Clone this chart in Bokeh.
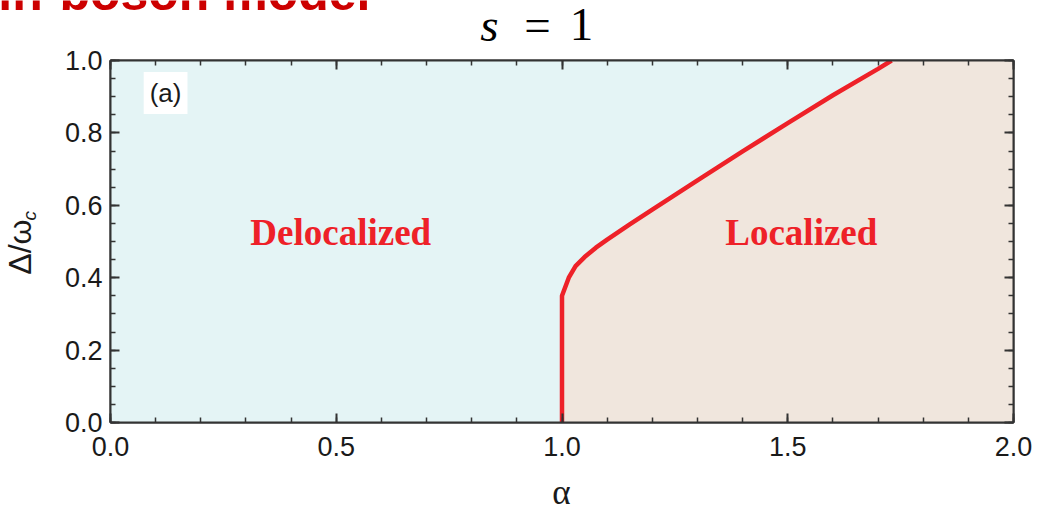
import math
from bokeh.plotting import figure
from bokeh.layouts import column, row
from bokeh.models import (Label, LinearAxis, SingleIntervalTicker, Range1d,
                          PrintfTickFormatter, CustomJSTickFormatter)
from bokeh.core.properties import value
from bokeh.embed import file_html
from bokeh.resources import INLINE

# Critical coupling line Delta_c / omega_c versus alpha (s = 1)
alpha_c = [1.0, 1.0, 1.015, 1.03, 1.05, 1.075, 1.1, 1.15, 1.2, 1.3, 1.4, 1.5, 1.6, 1.7, 1.73]
delta_c = [0.0, 0.35, 0.40, 0.432, 0.457, 0.483, 0.505, 0.547, 0.588, 0.669, 0.749, 0.827, 0.904, 0.977, 1.0]

x_lim = (0.0, 2.0)
y_lim = (0.0, 1.0)

W, H = 1048, 508
HEAD = 50          # heading strip height
FOOT = 36          # x-title strip height
YLAB = 60          # y-title strip width
BODY_H = H - HEAD - FOOT
MAIN_W = W - YLAB

def blank_fig(width, height, xr, yr):
    f = figure(width=width, height=height, x_range=xr, y_range=yr, title=None,
               output_backend="svg", toolbar_location=None,
               x_axis_location=None, y_axis_location=None,
               min_border=0, outline_line_color=None,
               background_fill_color="white", border_fill_color="white")
    f.xgrid.visible = False
    f.ygrid.visible = False
    return f

# ---- heading strip (canvas pixel coordinates, y downwards, texts anchored at their middle)
head = blank_fig(W, HEAD, Range1d(0, W), Range1d(HEAD, 0))
head.text(x=[370], y=[-7.5], text=["Spin-boson model"], text_align="right",
          text_baseline="middle", text_font=value("Liberation Sans"),
          text_font_style="bold", text_font_size="50px", text_color="#CC0000")
head.text(x=[489], y=[24], text=["s"], text_align="center", text_baseline="middle",
          text_font=value("Liberation Serif"), text_font_style="italic",
          text_font_size="47px", text_color="black")
head.text(x=[537], y=[24], text=["="], text_align="center", text_baseline="middle",
          text_font=value("Liberation Serif"), text_font_size="47px", text_color="black")
head.text(x=[581], y=[24], text=["1"], text_align="center", text_baseline="middle",
          text_font=value("Liberation Serif"), text_font_size="47px", text_color="black")

# ---- y-title strip (canvas pixel coordinates, y downwards)
ylab = blank_fig(YLAB, BODY_H, Range1d(0, YLAB), Range1d(HEAD + BODY_H, HEAD))
ylab.text(x=[19], y=[267.5], text=["Δ/ω"], angle=math.pi / 2, text_align="center",
          text_baseline="middle", text_font=value("Liberation Sans"),
          text_font_size="32px", text_color="#1a1a1a")
ylab.text(x=[28.5], y=[231], text=["c"], angle=math.pi / 2, text_align="center",
          text_baseline="middle", text_font=value("Liberation Sans"),
          text_font_style="italic", text_font_size="19px", text_color="#1a1a1a")

# ---- x-title strip (canvas pixel coordinates, y downwards)
foot = blank_fig(W, FOOT, Range1d(0, W), Range1d(H, H - FOOT))
foot.text(x=[561], y=[492], text=["α"], text_align="center", text_baseline="middle",
          text_font=value("Liberation Serif"), text_font_size="35px", text_color="#1a1a1a")

# ---- main plot
L, R, T, B = 50, 35, 10, 50
p = figure(width=MAIN_W, height=BODY_H, x_range=Range1d(*x_lim), y_range=Range1d(*y_lim),
           title=None, output_backend="svg", toolbar_location=None,
           x_axis_location=None, y_axis_location=None,
           min_border_left=L, min_border_right=R, min_border_top=T, min_border_bottom=B,
           background_fill_color="white", border_fill_color="white")
p.xgrid.visible = False
p.ygrid.visible = False
p.outline_line_color = "#333333"
p.outline_line_width = 2

# phase regions
deloc_x = [x_lim[0]] + alpha_c + [x_lim[0]]
deloc_y = [y_lim[0]] + delta_c + [y_lim[1]]
loc_x = alpha_c + [x_lim[1], x_lim[1]]
loc_y = delta_c + [y_lim[1], y_lim[0]]
p.patch(deloc_x, deloc_y, fill_color="#E4F4F5", line_color=None)
p.patch(loc_x, loc_y, fill_color="#F0E6DD", line_color=None)
p.line(alpha_c, delta_c, line_color="#EE2128", line_width=4.5)

def make_axis(interval, minor, labels, standoff=8):
    ax = LinearAxis(ticker=SingleIntervalTicker(interval=interval, num_minor_ticks=minor))
    ax.axis_line_color = "#333333"
    ax.axis_line_width = 2
    ax.major_tick_in = 9
    ax.major_tick_out = 0
    ax.minor_tick_in = 5
    ax.minor_tick_out = 0
    ax.major_tick_line_color = "#333333"
    ax.minor_tick_line_color = "#333333"
    ax.major_tick_line_width = 2
    ax.minor_tick_line_width = 1.5
    ax.major_label_text_font = "Liberation Sans"
    ax.major_label_text_color = "#1a1a1a"
    if labels:
        ax.formatter = PrintfTickFormatter(format="%.1f")
        ax.major_label_text_font_size = "27px"
        ax.major_label_standoff = standoff
    else:
        ax.formatter = CustomJSTickFormatter(code="return ''")
        ax.major_label_text_font_size = "2px"
        ax.major_label_standoff = 0
    return ax

p.add_layout(make_axis(0.5, 5, True, standoff=14), "below")
p.add_layout(make_axis(0.2, 4, True, standoff=8), "left")
p.add_layout(make_axis(0.5, 5, False), "above")
p.add_layout(make_axis(0.2, 4, False), "right")

red = "#EE2128"
p.add_layout(Label(x=0.51, y=0.525, text="Delocalized", text_align="center",
                   text_baseline="middle", text_font="Liberation Serif",
                   text_font_style="bold", text_font_size="37px", text_color=red))
p.add_layout(Label(x=1.53, y=0.525, text="Localized", text_align="center",
                   text_baseline="middle", text_font="Liberation Serif",
                   text_font_style="bold", text_font_size="37px", text_color=red))
p.add_layout(Label(x=0.122, y=0.91, text="(a)", text_align="center",
                   text_baseline="middle", text_font="Liberation Sans",
                   text_font_size="26px", text_color="#1a1a1a",
                   background_fill_color="white", padding=6))

layout = column(head, row(ylab, p), foot)
open("out.html", "w").write(file_html(layout, INLINE))
